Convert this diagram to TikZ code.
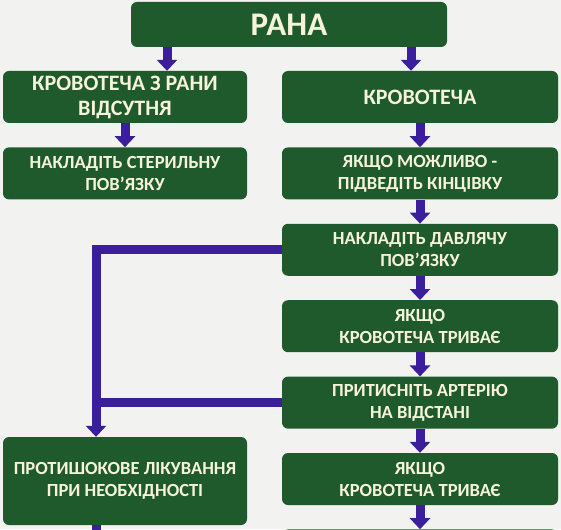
\documentclass[tikz,border=0pt]{standalone}
\usepackage{fontspec}
\setmainfont{Carlito}
\usetikzlibrary{arrows.meta, positioning}
\definecolor{BoxGreen}{HTML}{1F5A2C}
\definecolor{PaleText}{HTML}{F6F3DA}
\definecolor{ArrowBlue}{HTML}{3B1E9C}
\definecolor{PaperGray}{HTML}{F2F2F0}
\tikzset{
  box/.style={fill=BoxGreen, rounded corners=6pt, align=center, text=PaleText, inner sep=2pt, font=\fontsize{18.5}{22}\selectfont\bfseries},
  leftbox/.style={box, minimum width=244pt, minimum height=52pt},
  rightbox/.style={box, minimum width=276pt, minimum height=52pt},
  bigtext/.style={font=\fontsize{22}{25}\selectfont\bfseries},
  arrow/.style={-{Triangle[width=20pt, length=11pt]}, line width=9pt, draw=ArrowBlue},
  bar/.style={line width=9pt, draw=ArrowBlue}
}

\begin{document}
\begin{tikzpicture}[x=1pt, y=-1pt, node distance=24pt]
\fill[PaperGray] (0,0) rectangle (561,529);
\useasboundingbox (0,0) rectangle (561,529);
\node[box, minimum width=316pt, minimum height=45pt, font=\fontsize{33}{36}\selectfont\bfseries] (rana) at (289,24.5) {РАНА};
\node[leftbox, bigtext] (left1) at (125,97) {КРОВОТЕЧА З РАНИ\\ВІДСУТНЯ};
\node[rightbox, bigtext] (right1) at (420,97) {КРОВОТЕЧА};
\node[leftbox, below=of left1] (left2) {НАКЛАДІТЬ СТЕРИЛЬНУ\\ПОВ’ЯЗКУ};
\node[rightbox, below=of right1] (right2) {ЯКЩО МОЖЛИВО -\\ПІДВЕДІТЬ КІНЦІВКУ};
\node[rightbox, below=of right2] (right3) {НАКЛАДІТЬ ДАВЛЯЧУ\\ПОВ’ЯЗКУ};
\node[rightbox, below=of right3] (right4) {ЯКЩО\\КРОВОТЕЧА ТРИВАЄ};
\node[rightbox, below=of right4] (right5) {ПРИТИСНІТЬ АРТЕРІЮ\\НА ВІДСТАНІ};
\node[rightbox, below=of right5] (right6) {ЯКЩО\\КРОВОТЕЧА ТРИВАЄ};
\node[rightbox, below=of right6] (right7) {};
\node[leftbox, minimum height=88pt] (left3) at (125,481) {ПРОТИШОКОВЕ ЛІКУВАННЯ\\ПРИ НЕОБХІДНОСТІ};
\draw[arrow] ([xshift=-122pt]rana.south) -- ([xshift=42pt]left1.north);
\draw[arrow] ([xshift=122pt]rana.south) -- ([xshift=-9pt]right1.north);
\draw[arrow] (left1) -- (left2);
\foreach \a/\b in {right1/right2, right2/right3, right3/right4, right4/right5, right5/right6, right6/right7}
  \draw[arrow] (\a) -- (\b);
\coordinate (drop) at ([xshift=-29pt]left3.north);
\coordinate (exit) at ([yshift=-30pt]left3.south -| drop);
\draw[arrow] (right3.west) -| (drop);
\draw[bar] (right5.west) -- (right5.west -| drop);
\draw[arrow] (left3.south -| drop) -- (exit);
\end{tikzpicture}
\end{document}
